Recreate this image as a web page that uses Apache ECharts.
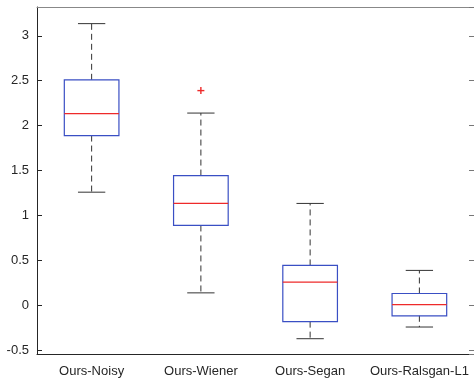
<!DOCTYPE html>
<html>
<head>
<meta charset="utf-8">
<script src="https://cdn.jsdelivr.net/npm/echarts@6/dist/echarts.min.js"></script>
<style>
html,body{margin:0;padding:0;background:#fff;}
#chart{width:474px;height:378px;}
</style>
</head>
<body>
<div id="chart"></div>
<script>
var categories = ['Ours-Noisy', 'Ours-Wiener', 'Ours-Segan', 'Ours-Ralsgan-L1'];
var lowerWhisker = [1.26, 0.14, -0.37, -0.24];
var q1 = [1.89, 0.89, -0.18, -0.115];
var median = [2.135, 1.135, 0.26, 0.01];
var q3 = [2.51, 1.445, 0.445, 0.133];
var upperWhisker = [3.135, 2.14, 1.135, 0.39];
var outliers = [[1, 2.39]];
var yTicks = [-0.5, 0, 0.5, 1, 1.5, 2, 2.5, 3];

var boxData = categories.map(function (c, i) {
  return [i, lowerWhisker[i], q1[i], median[i], q3[i], upperWhisker[i]];
});

var axisColor = '#262626';
var fontFamily = '"Liberation Sans", Arial, Helvetica, sans-serif';

function renderBox(params, api) {
  var idx = api.value(0);
  var band = api.size([1, 0])[0];
  var bw = band * 0.5;
  var cw = bw * 0.5;
  var pLow = api.coord([idx, api.value(1)]);
  var pQ1 = api.coord([idx, api.value(2)]);
  var pMed = api.coord([idx, api.value(3)]);
  var pQ3 = api.coord([idx, api.value(4)]);
  var pHigh = api.coord([idx, api.value(5)]);
  var x = pMed[0];
  var whiskerStyle = { stroke: '#333', lineWidth: 1, lineDash: [6, 4], fill: null };
  var capStyle = { stroke: '#333', lineWidth: 1, fill: null };
  return {
    type: 'group',
    children: [
      { type: 'line', shape: { x1: x, y1: pQ3[1], x2: x, y2: pHigh[1] }, style: whiskerStyle },
      { type: 'line', shape: { x1: x, y1: pQ1[1], x2: x, y2: pLow[1] }, style: whiskerStyle },
      { type: 'line', shape: { x1: x - cw / 2, y1: pHigh[1], x2: x + cw / 2, y2: pHigh[1] }, style: capStyle },
      { type: 'line', shape: { x1: x - cw / 2, y1: pLow[1], x2: x + cw / 2, y2: pLow[1] }, style: capStyle },
      { type: 'rect', shape: { x: x - bw / 2, y: pQ3[1], width: bw, height: pQ1[1] - pQ3[1] },
        style: { stroke: '#3a4fc4', lineWidth: 1.2, fill: null } },
      { type: 'line', shape: { x1: x - bw / 2, y1: pMed[1], x2: x + bw / 2, y2: pMed[1] },
        style: { stroke: '#ee2a2a', lineWidth: 1.2 } }
    ]
  };
}

function renderOutlier(params, api) {
  var p = api.coord([api.value(0), api.value(1)]);
  var s = 3.5;
  var st = { stroke: '#ee2a2a', lineWidth: 1.4 };
  return {
    type: 'group',
    children: [
      { type: 'line', shape: { x1: p[0] - s, y1: p[1], x2: p[0] + s, y2: p[1] }, style: st },
      { type: 'line', shape: { x1: p[0], y1: p[1] - s, x2: p[0], y2: p[1] + s }, style: st }
    ]
  };
}

var chart = echarts.init(document.getElementById('chart'), null, { renderer: 'canvas' });
chart.setOption({
  animation: false,
  backgroundColor: '#fff',
  grid: { left: 37, top: 7, right: -3, bottom: 24, containLabel: false },
  xAxis: [{
    type: 'category',
    data: categories,
    position: 'bottom',
    boundaryGap: true,
    axisLine: { onZero: false, lineStyle: { color: axisColor, width: 1 } },
    axisTick: { inside: true, alignWithLabel: true, length: 5, lineStyle: { color: axisColor } },
    axisLabel: { color: axisColor, fontSize: 13, fontFamily: fontFamily, margin: 11, interval: 0 },
    splitLine: { show: false }
  }, {
    type: 'category',
    data: categories,
    position: 'top',
    boundaryGap: true,
    axisLine: { onZero: false, lineStyle: { color: '#888', width: 1 } },
    axisTick: { inside: true, alignWithLabel: true, length: 5, lineStyle: { color: '#777' } },
    axisLabel: { show: false },
    splitLine: { show: false }
  }],
  yAxis: [{
    type: 'value',
    min: -0.54,
    max: 3.32,
    splitNumber: 7,
    axisLine: { show: true, onZero: false, lineStyle: { color: axisColor, width: 1 } },
    axisTick: { show: true, inside: true, length: 5, lineStyle: { color: axisColor } },
    axisLabel: {
      color: axisColor, fontSize: 13, fontFamily: fontFamily, margin: 8,
      showMinLabel: false, showMaxLabel: false,
      formatter: function (v) {
        for (var i = 0; i < yTicks.length; i++) {
          if (Math.abs(v - yTicks[i]) < 1e-6) return String(yTicks[i]);
        }
        return '';
      }
    },
    splitLine: { show: false }
  }, {
    type: 'value',
    position: 'right',
    min: -0.54,
    max: 3.32,
    splitNumber: 7,
    axisLine: { show: true, onZero: false, lineStyle: { color: axisColor } },
    axisTick: { show: true, inside: true, length: 5, lineStyle: { color: '#777' } },
    axisLabel: { show: false },
    splitLine: { show: false }
  }],
  series: [{
    type: 'custom',
    xAxisIndex: 0,
    yAxisIndex: 0,
    renderItem: renderBox,
    encode: { x: 0, y: [1, 2, 3, 4, 5] },
    data: boxData,
    clip: false
  }, {
    type: 'custom',
    xAxisIndex: 0,
    yAxisIndex: 0,
    renderItem: renderOutlier,
    encode: { x: 0, y: 1 },
    data: outliers
  }]
});
</script>
</body>
</html>
